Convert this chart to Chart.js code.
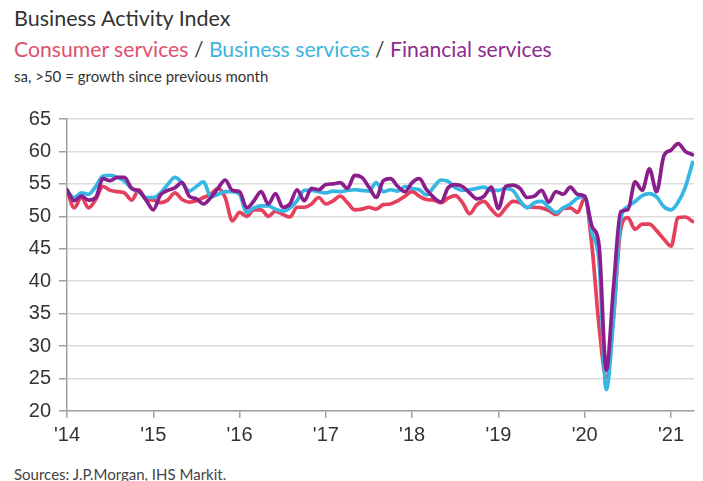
<!DOCTYPE html>
<html>
<head>
<meta charset="utf-8">
<script src="https://cdn.jsdelivr.net/npm/chart.js@4/dist/chart.umd.min.js"></script>
<style>
    html, body { margin: 0; padding: 0; background: #fff; }
    .page { position: relative; width: 703px; height: 481px; overflow: hidden; font-family: Lato, "Noto Sans", sans-serif; }
    .title { position: absolute; left: 14px; top: 7px; font-size: 21.5px; line-height: 22px; color: #333; }
    .series { position: absolute; left: 14px; top: 38px; font-size: 21.2px; line-height: 22px; color: #444; }
    .series .cons { color: #e0506e; }
    .series .bus { color: #3db4dc; }
    .series .fin { color: #8e2b8c; }
    .note { position: absolute; left: 14px; top: 69px; font-size: 15px; line-height: 15px; color: #333; }
    .source { position: absolute; left: 14px; top: 467px; font-size: 15px; line-height: 15px; color: #444; }
    .chart-box { position: absolute; left: 0; top: 99px; width: 703px; height: 350px; }
</style>
</head>
<body>
<div class="page">
    <div class="title">Business Activity Index</div>
    <div class="series"><span class="cons">Consumer services</span> / <span class="bus">Business services</span> / <span class="fin">Financial services</span></div>
    <div class="note">sa, &gt;50 = growth since previous month</div>
    <div class="chart-box"><canvas id="activityChart" width="703" height="350"></canvas></div>
    <div class="source">Sources: J.P.Morgan, IHS Markit.</div>
</div>
<script>
// monthly readings, Jan 2014 .. Apr 2021
const yearLabels = ["'14", "'15", "'16", "'17", "'18", "'19", "'20", "'21"];

const consumerServices = [
    54.0, 51.3, 52.9, 51.3, 52.6, 54.6, 54.0, 53.8, 53.6, 52.5, 54.1, 52.6,
    52.5, 52.1, 52.5, 53.6, 52.6, 52.2, 52.4, 52.9, 53.4, 54.3, 52.9, 49.3,
    50.6, 50.0, 51.0, 51.0, 50.0, 50.8, 50.3, 49.9, 51.4, 51.4, 51.9, 52.9,
    51.9, 52.4, 53.1, 52.1, 51.0, 51.1, 51.4, 51.1, 51.8, 51.9, 52.4, 53.1,
    53.8, 53.1, 52.6, 52.5, 52.1, 52.8, 53.2, 52.1, 50.4, 51.8, 52.3, 51.1,
    50.1, 51.3, 52.3, 52.1, 51.4, 51.4, 51.3, 50.9, 50.3, 51.2, 51.3, 50.6,
    52.8, 45.5, 33.0, 25.2, 34.5, 48.0, 49.8, 48.0, 48.8, 48.8, 47.8, 46.5,
    45.4, 49.8, 49.9, 49.2
];

const businessServices = [
    53.9, 52.9, 53.6, 53.4, 54.6, 56.2, 56.3, 56.0, 55.4, 54.3, 53.8, 52.9,
    52.9, 53.6, 54.9, 56.0, 55.2, 53.9, 54.6, 55.3, 53.0, 53.4, 53.8, 53.8,
    53.4, 50.6, 51.3, 51.6, 51.6, 51.1, 50.8, 51.3, 52.4, 54.0, 54.0, 53.8,
    53.6, 53.9, 53.8, 54.0, 54.1, 54.0, 53.9, 55.2, 53.8, 54.1, 53.9, 54.6,
    54.3, 54.1, 53.3, 54.5, 55.6, 55.4, 54.4, 54.0, 54.1, 54.3, 54.5, 54.0,
    54.0, 54.3, 54.0, 52.4, 51.3, 52.1, 52.3, 51.4, 50.6, 51.3, 51.9, 52.8,
    53.1, 47.5, 43.0, 23.3, 34.0, 49.5, 51.5, 52.3, 53.2, 53.5, 53.0, 51.5,
    51.0, 52.2, 54.5, 58.3
];

const financialServices = [
    54.1, 52.4, 53.1, 52.5, 52.9, 55.8, 55.5, 56.0, 56.0, 54.3, 53.9, 52.5,
    51.0, 53.3, 54.0, 54.4, 55.2, 53.1, 52.7, 51.9, 52.9, 54.3, 55.6, 54.0,
    53.8, 51.3, 52.4, 53.8, 51.9, 53.5, 51.4, 51.9, 54.1, 52.4, 54.3, 54.1,
    54.9, 55.0, 55.2, 54.3, 56.3, 56.0, 54.5, 52.9, 55.5, 55.8, 54.6, 53.8,
    55.2, 55.8, 54.1, 52.9, 52.2, 54.4, 54.9, 54.6, 53.6, 52.7, 53.1, 54.5,
    51.2, 54.6, 54.8, 54.3, 52.9, 53.1, 54.0, 52.2, 53.8, 53.4, 54.5, 53.4,
    53.1, 48.5, 45.5, 26.3, 39.0, 50.7, 51.0, 55.3, 54.0, 57.3, 53.8, 59.3,
    60.2, 61.2, 60.0, 59.5
];

const toPoints = values => values.map((v, i) => ({ x: i, y: v }));

const axisFont = { family: '"Liberation Sans", Arial, sans-serif', size: 20 };

const ctx = document.getElementById('activityChart').getContext('2d');
const activityChart = new Chart(ctx, {
    type: 'line',
    data: {
        datasets: [
            { label: 'Financial services', data: toPoints(financialServices), borderColor: '#8b1e8d', order: 0 },
            { label: 'Business services', data: toPoints(businessServices), borderColor: '#35b6e3', order: 1 },
            { label: 'Consumer services', data: toPoints(consumerServices), borderColor: '#e6405c', order: 2 },
        ]
    },
    options: {
        responsive: false,
        animation: false,
        layout: { padding: { top: 19, right: 9, left: 0, bottom: 0 } },
        elements: {
            point: { radius: 0 },
            line: { borderWidth: 3.7, cubicInterpolationMode: 'monotone', borderCapStyle: 'round', borderJoinStyle: 'round' }
        },
        plugins: { legend: { display: false }, tooltip: { enabled: false } },
        scales: {
            x: {
                type: 'linear',
                min: 0,
                max: 87.2,
                afterBuildTicks: scale => {
                    scale.ticks = yearLabels.map((_, i) => ({ value: i * 12 }));
                },
                afterFit: scale => { scale.height = 38; },
                ticks: {
                    font: axisFont,
                    color: '#333',
                    padding: 5,
                    maxRotation: 0,
                    callback: value => yearLabels[Math.round(value / 12)]
                },
                grid: { drawOnChartArea: false, drawTicks: true, tickLength: 7, tickColor: '#a0a0a0', lineWidth: 1.5 },
                border: { color: '#a0a0a0', width: 1.5 }
            },
            y: {
                min: 20,
                max: 65,
                afterFit: scale => { scale.width = 67; },
                ticks: { stepSize: 5, font: axisFont, color: '#333', padding: 8 },
                grid: { color: '#dcdcdc', lineWidth: 1.5, tickLength: 8, tickColor: '#a0a0a0' },
                border: { color: '#a0a0a0', width: 1.5 }
            }
        }
    }
});
</script>
</body>
</html>
